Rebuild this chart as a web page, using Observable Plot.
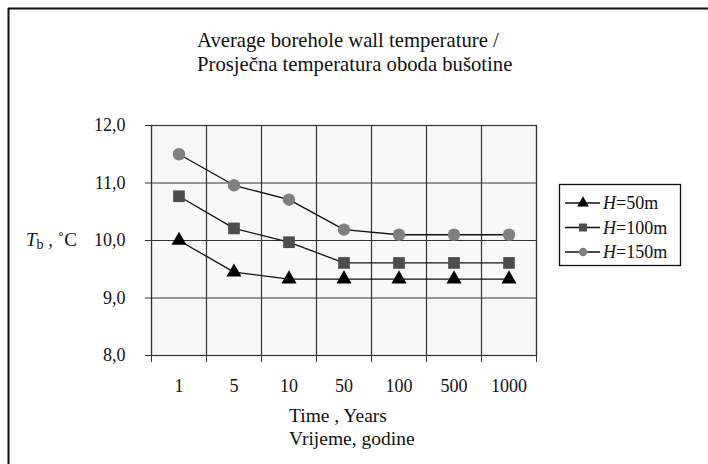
<!DOCTYPE html>
<html>
<head>
<meta charset="utf-8">
<script src="https://cdn.jsdelivr.net/npm/d3@7"></script>
<script src="https://cdn.jsdelivr.net/npm/@observablehq/plot@0.6"></script>
<style>
  html, body { margin: 0; padding: 0; background: #fff; }
  #chart { width: 708px; height: 464px; }
  #chart svg, #chart svg text, #chart svg tspan { font-family: "Liberation Serif", "Times New Roman", Times, Tinos, "DejaVu Serif", serif !important; }
</style>
</head>
<body>
<div id="chart"></div>
<script>
// ---- data ----
const timeLabels = ["1", "5", "10", "50", "100", "500", "1000"];
const seriesNames = ["H=50m", "H=100m", "H=150m"];
const h50 = [10.00, 9.45, 9.33, 9.33, 9.33, 9.33, 9.33];
const h100 = [10.77, 10.21, 9.97, 9.61, 9.61, 9.61, 9.61];
const h150 = [11.50, 10.96, 10.71, 10.19, 10.10, 10.10, 10.10];
const yTicks = [8, 9, 10, 11, 12];
const titleLines = ["Average borehole wall temperature /", "Prosječna temperatura oboda bušotine"];
const xTitleLines = ["Time , Years", "Vrijeme, godine"];

const seriesValues = [h50, h100, h150];
const symbols = ["triangle", "square", "circle"];
const fills = ["#000000", "#4d4d4d", "#808080"];
const radii = [5.6, 6.6, 6.2];

const data = [];
seriesNames.forEach((s, si) => {
  seriesValues[si].forEach((v, i) => data.push({series: s, si, i, x: i + 0.5, y: v}));
});

const boundaries = d3.range(0, timeLabels.length + 1);
const centers = timeLabels.map((_, i) => i + 0.5);

const marks = [
  Plot.frame({fill: "#f8f8f8", stroke: "none"}),
  Plot.ruleY(yTicks, {stroke: "#333", strokeWidth: 1.2}),
  Plot.ruleX(boundaries, {stroke: "#333", strokeWidth: 1.2}),
  Plot.frame({stroke: "#333", strokeWidth: 1.2}),
  Plot.axisY({ticks: yTicks, label: null, tickSize: 6, tickPadding: 20, tickFormat: d => d.toFixed(1).replace(".", ","), stroke: "#333", fontSize: 18, fill: "#111"}),
  Plot.axisX({ticks: boundaries, label: null, tickSize: 7, tickFormat: () => "", stroke: "#333"}),
  Plot.axisX({ticks: centers, label: null, tickSize: 0, tickPadding: 24, tickFormat: d => timeLabels[Math.round(d - 0.5)], fontSize: 18, fill: "#111"}),
  Plot.line(data, {x: "x", y: "y", z: "series", stroke: "#111", strokeWidth: 1.3})
];
seriesNames.forEach((s, si) => {
  marks.push(Plot.dot(data.filter(d => d.si === si), {x: "x", y: "y", symbol: () => symbols[si], r: radii[si], fill: fills[si], stroke: "none"}));
});

const plot = Plot.plot({
  width: 708,
  height: 464,
  marginLeft: 151,
  marginRight: 172,
  marginTop: 125,
  marginBottom: 109,
  style: {fontSize: "18px", background: "#fff", color: "#111"},
  x: {domain: [0, timeLabels.length], axis: null},
  y: {domain: [8, 12], axis: null},
  symbol: {type: "identity"},
  marks
});

document.getElementById("chart").appendChild(plot);

// ---- annotations drawn into the same SVG ----
const svg = d3.select(plot);
svg.append("line").attr("x1", 8).attr("y1", 8.5).attr("x2", 708).attr("y2", 8.5).attr("stroke", "#111").attr("stroke-width", 2);
svg.append("line").attr("x1", 8.5).attr("y1", 8).attr("x2", 8.5).attr("y2", 464).attr("stroke", "#111").attr("stroke-width", 2);

const tg = svg.append("g").attr("font-size", 20.7).attr("fill", "#111").attr("text-anchor", "start");
titleLines.forEach((t, k) => tg.append("text").attr("x", 197).attr("y", 47 + k * 24).text(t));

const xg = svg.append("g").attr("font-size", 19.5).attr("fill", "#111").attr("text-anchor", "start");
xTitleLines.forEach((t, k) => xg.append("text").attr("x", 289).attr("y", 422 + k * 23).text(t));

const yl = svg.append("text").attr("font-size", 19).attr("fill", "#111").attr("text-anchor", "start").attr("x", 26).attr("y", 246);
yl.append("tspan").attr("font-style", "italic").text("T");
yl.append("tspan").attr("font-size", 14).attr("dy", 3).text("b");
yl.append("tspan").attr("dy", -3).text(" , \u02DAC");

// legend
const lg = svg.append("g");
lg.append("rect").attr("x", 559.5).attr("y", 184.5).attr("width", 121).attr("height", 81).attr("fill", "#fff").attr("stroke", "#111").attr("stroke-width", 1.3);
seriesNames.forEach((s, si) => {
  const cy = 203 + si * 24.5;
  lg.append("line").attr("x1", 565).attr("x2", 600).attr("y1", cy).attr("y2", cy).attr("stroke", "#111").attr("stroke-width", 1.3);
  lg.append("path").attr("transform", `translate(583,${cy})`).attr("d", d3.symbol(si === 0 ? d3.symbolTriangle : si === 1 ? d3.symbolSquare : d3.symbolCircle, si === 0 ? 60 : si === 1 ? 64 : 55)()).attr("fill", fills[si]);
  const t = lg.append("text").attr("font-size", 18).attr("fill", "#111").attr("text-anchor", "start").attr("x", 603).attr("y", cy + 6);
  const parts = s.split("=");
  t.append("tspan").attr("font-style", "italic").text(parts[0]);
  t.append("tspan").text("=" + parts[1]);
});
</script>
</body>
</html>
